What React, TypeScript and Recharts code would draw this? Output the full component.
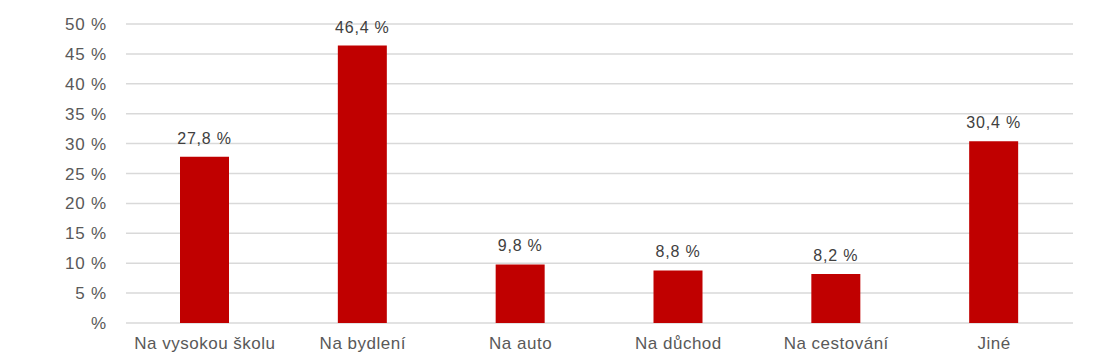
import React from 'react';
import { BarChart, Bar, XAxis, YAxis, CartesianGrid, LabelList } from 'recharts';

const categories = ['Na vysokou školu', 'Na bydlení', 'Na auto', 'Na důchod', 'Na cestování', 'Jiné'];
const shares = [27.8, 46.4, 9.8, 8.8, 8.2, 30.4];
const yTicks = [0, 5, 10, 15, 20, 25, 30, 35, 40, 45, 50];

const data = categories.map((name, i) => ({ name, value: shares[i] }));

const FONT = '"Liberation Sans", Arial, sans-serif';

// 0 is shown as just "%" in the original
const formatTick = (v: number) => (v === 0 ? '%' : `${v}\u00A0%`);
const formatLabel = (v: any) => `${Number(v).toFixed(1).replace('.', ',')}\u00A0%`;

export default function App() {
  return (
    <div style={{ position: 'absolute', left: 0, top: 0, width: 1110, height: 356, background: '#fff', fontFamily: FONT }}>
      <BarChart
        width={1110}
        height={356}
        data={data}
        margin={{ top: 24, right: 37, left: 0, bottom: 0 }}
        barCategoryGap="0%"
      >
        <CartesianGrid vertical={false} stroke="#D9D9D9" strokeWidth={1.5} />
        <XAxis
          dataKey="name"
          height={33}
          axisLine={false}
          tickLine={false}
          tickSize={0}
          tickMargin={14}
          interval={0}
          tick={{ fill: '#595959', fontSize: 17, fontFamily: FONT, letterSpacing: 0.5 }}
        />
        <YAxis
          width={126}
          domain={[0, 50]}
          ticks={yTicks}
          axisLine={false}
          tickLine={false}
          tickSize={0}
          tickMargin={19}
          tickFormatter={formatTick}
          tick={{ fill: '#595959', fontSize: 17, fontFamily: FONT, letterSpacing: 0.8 }}
        />
        <Bar dataKey="value" fill="#C00000" barSize={49} isAnimationActive={false}>
          <LabelList
            dataKey="value"
            position="top"
            offset={13}
            formatter={formatLabel}
            style={{ fill: '#404040', fontSize: 16, fontFamily: FONT, letterSpacing: 0.8 }}
          />
        </Bar>
      </BarChart>
    </div>
  );
}
